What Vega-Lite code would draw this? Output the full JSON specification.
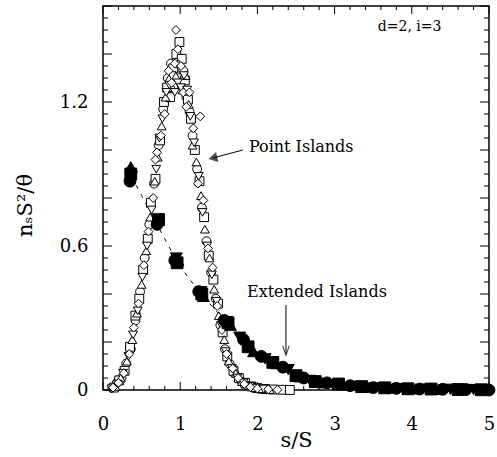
{
  "$schema": "https://vega.github.io/schema/vega-lite/v6.json",
  "width": 386,
  "height": 384,
  "autosize": {"type": "none"},
  "padding": {"left": 103, "top": 6, "right": 8, "bottom": 67},
  "background": "white",
  "config": {
    "view": {"stroke": "black", "strokeWidth": 1.5}
  },
  "datasets": {
    "open": [
      {"run": "A", "x": 0.12, "y": 0.01}, {"run": "A", "x": 0.18, "y": 0.03}, {"run": "A", "x": 0.24, "y": 0.05},
      {"run": "A", "x": 0.30, "y": 0.11}, {"run": "A", "x": 0.36, "y": 0.17}, {"run": "A", "x": 0.42, "y": 0.29},
      {"run": "A", "x": 0.48, "y": 0.41}, {"run": "A", "x": 0.54, "y": 0.55}, {"run": "A", "x": 0.60, "y": 0.69},
      {"run": "A", "x": 0.66, "y": 0.86}, {"run": "A", "x": 0.72, "y": 1.02}, {"run": "A", "x": 0.78, "y": 1.17},
      {"run": "A", "x": 0.84, "y": 1.30}, {"run": "A", "x": 0.88, "y": 1.36}, {"run": "A", "x": 0.92, "y": 1.27},
      {"run": "A", "x": 0.96, "y": 1.38}, {"run": "A", "x": 1.00, "y": 1.30}, {"run": "A", "x": 1.04, "y": 1.33},
      {"run": "A", "x": 1.08, "y": 1.22}, {"run": "A", "x": 1.12, "y": 1.16}, {"run": "A", "x": 1.16, "y": 1.06},
      {"run": "A", "x": 1.22, "y": 0.92}, {"run": "A", "x": 1.28, "y": 0.76}, {"run": "A", "x": 1.34, "y": 0.62},
      {"run": "A", "x": 1.40, "y": 0.49}, {"run": "A", "x": 1.46, "y": 0.38}, {"run": "A", "x": 1.52, "y": 0.27},
      {"run": "A", "x": 1.58, "y": 0.17}, {"run": "A", "x": 1.64, "y": 0.11}, {"run": "A", "x": 1.70, "y": 0.07},
      {"run": "A", "x": 1.78, "y": 0.04}, {"run": "A", "x": 1.86, "y": 0.02}, {"run": "A", "x": 1.94, "y": 0.01},
      {"run": "A", "x": 2.02, "y": 0.005}, {"run": "A", "x": 2.12, "y": 0.003},
      {"run": "B", "x": 0.14, "y": 0.01}, {"run": "B", "x": 0.21, "y": 0.04}, {"run": "B", "x": 0.28, "y": 0.08},
      {"run": "B", "x": 0.35, "y": 0.18}, {"run": "B", "x": 0.42, "y": 0.31}, {"run": "B", "x": 0.47, "y": 0.38},
      {"run": "B", "x": 0.52, "y": 0.50}, {"run": "B", "x": 0.58, "y": 0.63}, {"run": "B", "x": 0.62, "y": 0.78},
      {"run": "B", "x": 0.68, "y": 0.88}, {"run": "B", "x": 0.74, "y": 1.04}, {"run": "B", "x": 0.79, "y": 1.20},
      {"run": "B", "x": 0.83, "y": 1.26}, {"run": "B", "x": 0.87, "y": 1.22}, {"run": "B", "x": 0.91, "y": 1.34},
      {"run": "B", "x": 0.95, "y": 1.40}, {"run": "B", "x": 0.99, "y": 1.45}, {"run": "B", "x": 1.02, "y": 1.38},
      {"run": "B", "x": 1.06, "y": 1.29}, {"run": "B", "x": 1.10, "y": 1.21}, {"run": "B", "x": 1.14, "y": 1.13},
      {"run": "B", "x": 1.19, "y": 1.00}, {"run": "B", "x": 1.25, "y": 0.87}, {"run": "B", "x": 1.31, "y": 0.72},
      {"run": "B", "x": 1.37, "y": 0.56}, {"run": "B", "x": 1.43, "y": 0.46}, {"run": "B", "x": 1.49, "y": 0.36},
      {"run": "B", "x": 1.55, "y": 0.24}, {"run": "B", "x": 1.61, "y": 0.14}, {"run": "B", "x": 1.69, "y": 0.08},
      {"run": "B", "x": 1.76, "y": 0.05}, {"run": "B", "x": 1.84, "y": 0.03}, {"run": "B", "x": 1.92, "y": 0.015},
      {"run": "B", "x": 2.00, "y": 0.008}, {"run": "B", "x": 2.10, "y": 0.004}, {"run": "B", "x": 2.20, "y": 0.002},
      {"run": "B", "x": 2.32, "y": 0.001}, {"run": "B", "x": 2.42, "y": 0.0},
      {"run": "C", "x": 0.16, "y": 0.015}, {"run": "C", "x": 0.23, "y": 0.05}, {"run": "C", "x": 0.31, "y": 0.12},
      {"run": "C", "x": 0.38, "y": 0.21}, {"run": "C", "x": 0.44, "y": 0.32}, {"run": "C", "x": 0.50, "y": 0.44},
      {"run": "C", "x": 0.56, "y": 0.58}, {"run": "C", "x": 0.61, "y": 0.72}, {"run": "C", "x": 0.67, "y": 0.87},
      {"run": "C", "x": 0.71, "y": 0.97}, {"run": "C", "x": 0.76, "y": 1.10}, {"run": "C", "x": 0.81, "y": 1.22},
      {"run": "C", "x": 0.86, "y": 1.30}, {"run": "C", "x": 0.90, "y": 1.26}, {"run": "C", "x": 0.94, "y": 1.31},
      {"run": "C", "x": 0.98, "y": 1.36}, {"run": "C", "x": 1.03, "y": 1.25}, {"run": "C", "x": 1.07, "y": 1.31},
      {"run": "C", "x": 1.11, "y": 1.19}, {"run": "C", "x": 1.16, "y": 1.02}, {"run": "C", "x": 1.21, "y": 0.95},
      {"run": "C", "x": 1.27, "y": 0.81}, {"run": "C", "x": 1.32, "y": 0.67}, {"run": "C", "x": 1.38, "y": 0.55},
      {"run": "C", "x": 1.44, "y": 0.42}, {"run": "C", "x": 1.50, "y": 0.31}, {"run": "C", "x": 1.57, "y": 0.21},
      {"run": "C", "x": 1.63, "y": 0.12}, {"run": "C", "x": 1.72, "y": 0.07}, {"run": "C", "x": 1.80, "y": 0.035},
      {"run": "C", "x": 1.88, "y": 0.02}, {"run": "C", "x": 1.97, "y": 0.01}, {"run": "C", "x": 2.06, "y": 0.005},
      {"run": "C", "x": 2.16, "y": 0.002},
      {"run": "D", "x": 0.11, "y": 0.005}, {"run": "D", "x": 0.19, "y": 0.025}, {"run": "D", "x": 0.26, "y": 0.07},
      {"run": "D", "x": 0.33, "y": 0.14}, {"run": "D", "x": 0.39, "y": 0.23}, {"run": "D", "x": 0.45, "y": 0.33},
      {"run": "D", "x": 0.51, "y": 0.47}, {"run": "D", "x": 0.57, "y": 0.60}, {"run": "D", "x": 0.63, "y": 0.75},
      {"run": "D", "x": 0.69, "y": 0.92}, {"run": "D", "x": 0.73, "y": 1.05}, {"run": "D", "x": 0.77, "y": 1.13},
      {"run": "D", "x": 0.82, "y": 1.24}, {"run": "D", "x": 0.86, "y": 1.27}, {"run": "D", "x": 0.89, "y": 1.31},
      {"run": "D", "x": 0.93, "y": 1.24}, {"run": "D", "x": 0.97, "y": 1.28}, {"run": "D", "x": 1.01, "y": 1.26},
      {"run": "D", "x": 1.05, "y": 1.31}, {"run": "D", "x": 1.09, "y": 1.25}, {"run": "D", "x": 1.13, "y": 1.14},
      {"run": "D", "x": 1.18, "y": 1.03}, {"run": "D", "x": 1.24, "y": 0.89}, {"run": "D", "x": 1.29, "y": 0.74},
      {"run": "D", "x": 1.35, "y": 0.60}, {"run": "D", "x": 1.41, "y": 0.48}, {"run": "D", "x": 1.47, "y": 0.37},
      {"run": "D", "x": 1.53, "y": 0.27}, {"run": "D", "x": 1.59, "y": 0.16}, {"run": "D", "x": 1.67, "y": 0.09},
      {"run": "D", "x": 1.74, "y": 0.05}, {"run": "D", "x": 1.82, "y": 0.03}, {"run": "D", "x": 1.90, "y": 0.015},
      {"run": "D", "x": 1.99, "y": 0.008}, {"run": "D", "x": 2.08, "y": 0.004},
      {"run": "E", "x": 0.13, "y": 0.01}, {"run": "E", "x": 0.20, "y": 0.03}, {"run": "E", "x": 0.27, "y": 0.07},
      {"run": "E", "x": 0.34, "y": 0.15}, {"run": "E", "x": 0.40, "y": 0.26}, {"run": "E", "x": 0.46, "y": 0.36},
      {"run": "E", "x": 0.53, "y": 0.52}, {"run": "E", "x": 0.59, "y": 0.66}, {"run": "E", "x": 0.65, "y": 0.80},
      {"run": "E", "x": 0.70, "y": 0.99}, {"run": "E", "x": 0.75, "y": 1.06}, {"run": "E", "x": 0.80, "y": 1.15},
      {"run": "E", "x": 0.85, "y": 1.33}, {"run": "E", "x": 0.89, "y": 1.28}, {"run": "E", "x": 0.93, "y": 1.36},
      {"run": "E", "x": 0.945, "y": 1.50}, {"run": "E", "x": 0.97, "y": 1.42}, {"run": "E", "x": 1.01, "y": 1.35},
      {"run": "E", "x": 1.04, "y": 1.24}, {"run": "E", "x": 1.08, "y": 1.18}, {"run": "E", "x": 1.12, "y": 1.24},
      {"run": "E", "x": 1.17, "y": 1.09}, {"run": "E", "x": 1.23, "y": 0.86}, {"run": "E", "x": 1.26, "y": 1.14},
      {"run": "E", "x": 1.30, "y": 0.79}, {"run": "E", "x": 1.36, "y": 0.59}, {"run": "E", "x": 1.42, "y": 0.51},
      {"run": "E", "x": 1.48, "y": 0.35}, {"run": "E", "x": 1.54, "y": 0.25}, {"run": "E", "x": 1.60, "y": 0.15},
      {"run": "E", "x": 1.68, "y": 0.09}, {"run": "E", "x": 1.75, "y": 0.05}, {"run": "E", "x": 1.83, "y": 0.025},
      {"run": "E", "x": 1.91, "y": 0.012}, {"run": "E", "x": 2.00, "y": 0.006}, {"run": "E", "x": 2.14, "y": 0.003},
      {"run": "E", "x": 2.26, "y": 0.001}, {"run": "E", "x": 0.68, "y": 0.96}
    ],
    "extended": [
      {"run": "P", "x": 0.35, "y": 0.87}, {"run": "P", "x": 0.70, "y": 0.69}, {"run": "P", "x": 0.93, "y": 0.54},
      {"run": "P", "x": 1.24, "y": 0.41}, {"run": "P", "x": 1.57, "y": 0.29}, {"run": "P", "x": 1.82, "y": 0.21},
      {"run": "P", "x": 2.05, "y": 0.14}, {"run": "P", "x": 2.33, "y": 0.095}, {"run": "P", "x": 2.60, "y": 0.05},
      {"run": "P", "x": 2.90, "y": 0.03}, {"run": "P", "x": 3.20, "y": 0.018}, {"run": "P", "x": 3.50, "y": 0.01},
      {"run": "P", "x": 3.80, "y": 0.007}, {"run": "P", "x": 4.10, "y": 0.004}, {"run": "P", "x": 4.40, "y": 0.003},
      {"run": "P", "x": 4.70, "y": 0.002}, {"run": "P", "x": 5.00, "y": 0.0},
      {"run": "Q", "x": 0.36, "y": 0.90}, {"run": "Q", "x": 0.72, "y": 0.71}, {"run": "Q", "x": 0.96, "y": 0.53},
      {"run": "Q", "x": 1.28, "y": 0.40}, {"run": "Q", "x": 1.62, "y": 0.28}, {"run": "Q", "x": 1.88, "y": 0.18},
      {"run": "Q", "x": 2.20, "y": 0.115}, {"run": "Q", "x": 2.50, "y": 0.06}, {"run": "Q", "x": 2.75, "y": 0.035},
      {"run": "Q", "x": 3.05, "y": 0.025}, {"run": "Q", "x": 3.35, "y": 0.014}, {"run": "Q", "x": 3.65, "y": 0.009},
      {"run": "Q", "x": 3.95, "y": 0.005}, {"run": "Q", "x": 4.25, "y": 0.004}, {"run": "Q", "x": 4.60, "y": 0.002},
      {"run": "Q", "x": 4.90, "y": 0.001},
      {"run": "R", "x": 0.36, "y": 0.93}, {"run": "R", "x": 0.97, "y": 0.54}, {"run": "R", "x": 1.30, "y": 0.39},
      {"run": "R", "x": 1.65, "y": 0.27}, {"run": "R", "x": 1.95, "y": 0.16}, {"run": "R", "x": 2.25, "y": 0.11},
      {"run": "R", "x": 2.55, "y": 0.055}, {"run": "R", "x": 2.85, "y": 0.03}, {"run": "R", "x": 3.10, "y": 0.022},
      {"run": "R", "x": 3.45, "y": 0.012}, {"run": "R", "x": 3.75, "y": 0.008}, {"run": "R", "x": 4.05, "y": 0.005},
      {"run": "R", "x": 4.35, "y": 0.003}, {"run": "R", "x": 4.65, "y": 0.002}, {"run": "R", "x": 4.95, "y": 0.001},
      {"run": "S", "x": 0.37, "y": 0.89}, {"run": "S", "x": 0.95, "y": 0.55}, {"run": "S", "x": 1.27, "y": 0.41},
      {"run": "S", "x": 1.60, "y": 0.285}, {"run": "S", "x": 1.77, "y": 0.22}, {"run": "S", "x": 2.10, "y": 0.13},
      {"run": "S", "x": 2.40, "y": 0.085}, {"run": "S", "x": 2.68, "y": 0.04}, {"run": "S", "x": 2.98, "y": 0.022},
      {"run": "S", "x": 3.28, "y": 0.015}, {"run": "S", "x": 3.60, "y": 0.009}, {"run": "S", "x": 3.90, "y": 0.006},
      {"run": "S", "x": 4.20, "y": 0.004}, {"run": "S", "x": 4.50, "y": 0.003}, {"run": "S", "x": 4.80, "y": 0.002}
    ],
    "fit": [
      {"x": 0.37, "y": 0.89}, {"x": 0.5, "y": 0.81}, {"x": 0.7, "y": 0.69}, {"x": 0.95, "y": 0.54},
      {"x": 1.1, "y": 0.47}, {"x": 1.26, "y": 0.405}, {"x": 1.45, "y": 0.335}, {"x": 1.6, "y": 0.285},
      {"x": 1.8, "y": 0.215}, {"x": 2.0, "y": 0.16}, {"x": 2.2, "y": 0.115}, {"x": 2.4, "y": 0.085},
      {"x": 2.6, "y": 0.055}, {"x": 2.8, "y": 0.035}, {"x": 3.0, "y": 0.025}, {"x": 3.3, "y": 0.015},
      {"x": 3.6, "y": 0.009}, {"x": 4.0, "y": 0.005}, {"x": 4.5, "y": 0.002}, {"x": 5.0, "y": 0.0}
    ],
    "notes": [
      {"x": 1.89, "y": 1.0125, "size": "big", "text": "Point Islands"},
      {"x": 1.865, "y": 0.408, "size": "big", "text": "Extended Islands"},
      {"x": 3.56, "y": 1.5125, "size": "small", "text": "d=2, i=3"}
    ],
    "arrows": [
      {"x": 1.81, "y": 1.0, "x2": 1.44, "y2": 0.968},
      {"x": 2.37, "y": 0.354, "x2": 2.37, "y2": 0.152}
    ],
    "heads": [
      {"kind": "left", "x": 1.43, "y": 0.967},
      {"kind": "down", "x": 2.37, "y": 0.165}
    ],
    "xmajor": [{"v": 0}, {"v": 1}, {"v": 2}, {"v": 3}, {"v": 4}, {"v": 5}],
    "xminor": [
      {"v": 0.2}, {"v": 0.4}, {"v": 0.6}, {"v": 0.8}, {"v": 1.2}, {"v": 1.4}, {"v": 1.6}, {"v": 1.8},
      {"v": 2.2}, {"v": 2.4}, {"v": 2.6}, {"v": 2.8}, {"v": 3.2}, {"v": 3.4}, {"v": 3.6}, {"v": 3.8},
      {"v": 4.2}, {"v": 4.4}, {"v": 4.6}, {"v": 4.8}
    ],
    "ymajor": [{"v": 0}, {"v": 0.2}, {"v": 0.4}, {"v": 0.6}, {"v": 0.8}, {"v": 1.0}, {"v": 1.2}, {"v": 1.4}, {"v": 1.6}],
    "yminor": [
      {"v": 0.05}, {"v": 0.1}, {"v": 0.15}, {"v": 0.25}, {"v": 0.3}, {"v": 0.35}, {"v": 0.45}, {"v": 0.5},
      {"v": 0.55}, {"v": 0.65}, {"v": 0.7}, {"v": 0.75}, {"v": 0.85}, {"v": 0.9}, {"v": 0.95}, {"v": 1.05},
      {"v": 1.1}, {"v": 1.15}, {"v": 1.25}, {"v": 1.3}, {"v": 1.35}, {"v": 1.45}, {"v": 1.5}, {"v": 1.55}
    ]
  },
  "resolve": {"axis": {"x": "independent", "y": "independent"}},
  "layer": [
    {
      "data": {"name": "fit"},
      "mark": {"type": "line", "stroke": "black", "strokeWidth": 1, "strokeDash": [4, 6]},
      "encoding": {
        "x": {
          "field": "x", "type": "quantitative",
          "scale": {"domain": [0, 5], "nice": false, "zero": false},
          "axis": {
            "orient": "bottom", "domain": false, "grid": false, "ticks": false,
            "values": [0, 1, 2, 3, 4, 5],
            "format": "d",
            "labelFont": "DejaVu Serif", "labelFontSize": 18, "labelColor": "black", "labelFlush": false,
            "labelPadding": 25,
            "title": "s/S",
            "titleFont": "DejaVu Serif", "titleFontWeight": "normal", "titleColor": "black",
            "titleFontSize": 21,
            "titleBaseline": "middle",
            "titleY": 50
          }
        },
        "y": {
          "field": "y", "type": "quantitative",
          "scale": {"domain": [0, 1.6], "nice": false, "zero": false},
          "axis": {
            "orient": "left", "domain": false, "grid": false, "ticks": false,
            "values": [0, 0.6, 1.2],
            "format": ".1~f",
            "labelFont": "DejaVu Serif", "labelFontSize": 18, "labelColor": "black", "labelFlush": false, "labelOverlap": false,
            "labelPadding": 15,
            "title": "nₛS²/θ",
            "titleFont": "DejaVu Serif", "titleFontWeight": "normal", "titleColor": "black",
            "titleFontSize": 21,
            "titleAngle": 270,
            "titleAlign": "center",
            "titleBaseline": "middle",
            "titleX": -78,
            "titleY": 199
          }
        }
      }
    },
    {
      "data": {"name": "xmajor"},
      "mark": {"type": "rule", "stroke": "black", "strokeWidth": 1},
      "encoding": {
        "x": {"field": "v", "type": "quantitative", "axis": null},
        "y": {"datum": 0, "type": "quantitative", "axis": null},
        "y2": {"datum": 0.0333}
      }
    },
    {
      "data": {"name": "xminor"},
      "mark": {"type": "rule", "stroke": "black", "strokeWidth": 1},
      "encoding": {
        "x": {"field": "v", "type": "quantitative", "axis": null},
        "y": {"datum": 0, "type": "quantitative", "axis": null},
        "y2": {"datum": 0.0167}
      }
    },
    {
      "data": {"name": "xmajor"},
      "mark": {"type": "rule", "stroke": "black", "strokeWidth": 1},
      "encoding": {
        "x": {"field": "v", "type": "quantitative", "axis": null},
        "y": {"datum": 1.6, "type": "quantitative", "axis": null},
        "y2": {"datum": 1.5667}
      }
    },
    {
      "data": {"name": "xminor"},
      "mark": {"type": "rule", "stroke": "black", "strokeWidth": 1},
      "encoding": {
        "x": {"field": "v", "type": "quantitative", "axis": null},
        "y": {"datum": 1.6, "type": "quantitative", "axis": null},
        "y2": {"datum": 1.5833}
      }
    },
    {
      "data": {"name": "ymajor"},
      "mark": {"type": "rule", "stroke": "black", "strokeWidth": 1},
      "encoding": {
        "y": {"field": "v", "type": "quantitative", "axis": null},
        "x": {"datum": 0, "type": "quantitative", "axis": null},
        "x2": {"datum": 0.1166}
      }
    },
    {
      "data": {"name": "yminor"},
      "mark": {"type": "rule", "stroke": "black", "strokeWidth": 1},
      "encoding": {
        "y": {"field": "v", "type": "quantitative", "axis": null},
        "x": {"datum": 0, "type": "quantitative", "axis": null},
        "x2": {"datum": 0.0648}
      }
    },
    {
      "data": {"name": "ymajor"},
      "mark": {"type": "rule", "stroke": "black", "strokeWidth": 1},
      "encoding": {
        "y": {"field": "v", "type": "quantitative", "axis": null},
        "x": {"datum": 5, "type": "quantitative", "axis": null},
        "x2": {"datum": 4.8834}
      }
    },
    {
      "data": {"name": "yminor"},
      "mark": {"type": "rule", "stroke": "black", "strokeWidth": 1},
      "encoding": {
        "y": {"field": "v", "type": "quantitative", "axis": null},
        "x": {"datum": 5, "type": "quantitative", "axis": null},
        "x2": {"datum": 4.9352}
      }
    },
    {
      "data": {"name": "open"},
      "mark": {"type": "point", "filled": true, "fill": "white", "stroke": "black", "strokeWidth": 1, "size": 78, "opacity": 1},
      "encoding": {
        "x": {"field": "x", "type": "quantitative", "axis": null},
        "y": {"field": "y", "type": "quantitative", "axis": null},
        "shape": {
          "field": "run", "type": "nominal", "legend": null,
          "scale": {"domain": ["A", "B", "C", "D", "E"], "range": ["circle", "square", "triangle-up", "triangle-down", "diamond"]}
        }
      }
    },
    {
      "data": {"name": "extended"},
      "mark": {"type": "point", "filled": true, "fill": "black", "stroke": "black", "strokeWidth": 1, "size": 140, "opacity": 1},
      "encoding": {
        "x": {"field": "x", "type": "quantitative", "axis": null},
        "y": {"field": "y", "type": "quantitative", "axis": null},
        "shape": {
          "field": "run", "type": "nominal", "legend": null,
          "scale": {"domain": ["P", "Q", "R", "S"], "range": ["diamond", "square", "circle", "triangle-up"]}
        }
      }
    },
    {
      "data": {"name": "arrows"},
      "mark": {"type": "rule", "stroke": "black", "strokeWidth": 1},
      "encoding": {
        "x": {"field": "x", "type": "quantitative", "axis": null},
        "y": {"field": "y", "type": "quantitative", "axis": null},
        "x2": {"field": "x2"},
        "y2": {"field": "y2"}
      }
    },
    {
      "data": {"name": "heads"},
      "transform": [{"filter": "datum.kind == 'left'"}],
      "mark": {"type": "point", "shape": "triangle-left", "filled": true, "fill": "black", "stroke": "black", "size": 45, "angle": -13},
      "encoding": {
        "x": {"field": "x", "type": "quantitative", "axis": null},
        "y": {"field": "y", "type": "quantitative", "axis": null}
      }
    },
    {
      "data": {"name": "heads"},
      "transform": [{"filter": "datum.kind == 'down'"}],
      "mark": {"type": "point", "shape": "M -0.7 -1 L 0 1 L 0.7 -1", "filled": false, "stroke": "black", "strokeWidth": 1.2, "size": 90},
      "encoding": {
        "x": {"field": "x", "type": "quantitative", "axis": null},
        "y": {"field": "y", "type": "quantitative", "axis": null}
      }
    },
    {
      "data": {"name": "notes"},
      "mark": {"type": "text", "align": "left", "baseline": "middle", "font": "DejaVu Serif", "color": "black"},
      "encoding": {
        "x": {"field": "x", "type": "quantitative", "axis": null},
        "y": {"field": "y", "type": "quantitative", "axis": null},
        "text": {"field": "text"},
        "size": {"field": "size", "type": "nominal", "legend": null, "scale": {"domain": ["big", "small"], "range": [16, 14]}}
      }
    }
  ]
}
